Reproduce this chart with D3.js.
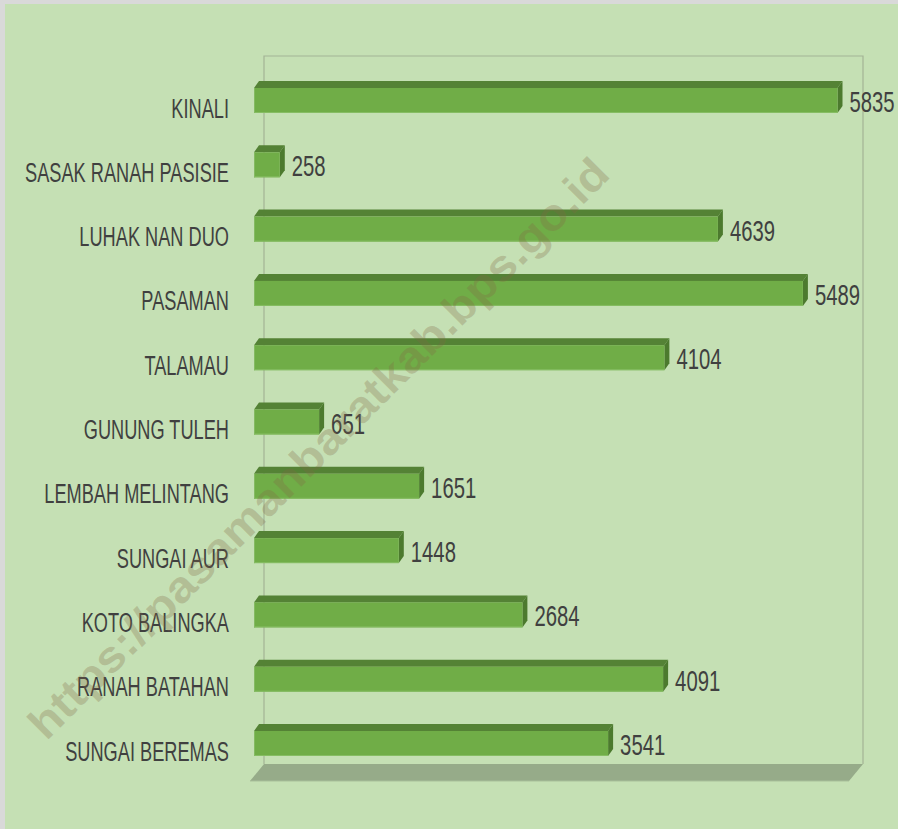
<!DOCTYPE html>
<html>
<head>
<meta charset="utf-8">
<script src="https://cdn.jsdelivr.net/npm/d3@7"></script>
<style>
  html, body { margin: 0; padding: 0; background: #d9d9d9; }
  svg { display: block; }
</style>
</head>
<body>
<svg id="chart" width="898" height="829"></svg>
<script>
const categories = ["KINALI", "SASAK RANAH PASISIE", "LUHAK NAN DUO", "PASAMAN", "TALAMAU",
  "GUNUNG TULEH", "LEMBAH MELINTANG", "SUNGAI AUR", "KOTO BALINGKA", "RANAH BATAHAN", "SUNGAI BEREMAS"];
const values = [5835, 258, 4639, 5489, 4104, 651, 1651, 1448, 2684, 4091, 3541];
const xDomain = [0, 6000];
const watermark = "https://pasamanbaratkab.bps.go.id";

const svg = d3.select("#chart");
const W = 898, H = 829;

// background panel
svg.append("rect").attr("x", 5).attr("y", 4).attr("width", W - 5).attr("height", H - 4).attr("fill", "#c5e0b4");

const x = d3.scaleLinear().domain(xDomain).range([254, 854]);
const y = d3.scalePoint().domain(categories).range([100.5, 743.5]);
const barH = 25, dX = 5, dY = 7;

// walls
const wallL = 264, wallR = 863, wallT = 56, floorB = 764;
const wall = svg.append("g").attr("stroke", "#a3b395").attr("stroke-width", 1.2).attr("fill", "none");
wall.append("path").attr("d", `M${wallL},${floorB}V${wallT}H${wallR}V${floorB}`);

// floor
svg.append("path")
  .attr("d", `M${wallL},${floorB}L${wallR},${floorB}L${wallR - 14},${floorB + 17}L${wallL - 14},${floorB + 17}Z`)
  .attr("fill", "#96ab89");
svg.append("line").attr("x1", wallL - 14).attr("x2", wallR - 14).attr("y1", floorB + 17).attr("y2", floorB + 17)
  .attr("stroke", "#a9bf9a").attr("stroke-width", 1);

// bars
const bars = svg.append("g").selectAll("g").data(categories).join("g");
bars.each(function(c, i) {
  const g = d3.select(this);
  const x0 = x(0), x1 = x(values[i]);
  const yt = y(c) - barH / 2, yb = y(c) + barH / 2;
  g.append("path")
    .attr("d", `M${x0},${yt}L${x0 + dX},${yt - dY}L${x1 + dX},${yt - dY}L${x1},${yt}Z`)
    .attr("fill", "#548235");
  g.append("path")
    .attr("d", `M${x1},${yt}L${x1 + dX},${yt - dY}L${x1 + dX},${yb - dY}L${x1},${yb}Z`)
    .attr("fill", "#4c7a2e");
  g.append("rect").attr("x", x0).attr("y", yt).attr("width", x1 - x0).attr("height", barH)
    .attr("fill", "#70ad47");
  g.append("line").attr("x1", x0).attr("x2", x1).attr("y1", yb - 0.5).attr("y2", yb - 0.5)
    .attr("stroke", "#86bd63").attr("stroke-width", 1);
  g.append("line").attr("x1", x0 + 0.5).attr("x2", x0 + 0.5).attr("y1", yt).attr("y2", yb)
    .attr("stroke", "#84ba62").attr("stroke-width", 1);
});

const fontFam = "'Liberation Sans', Arial, sans-serif";

// category labels
svg.append("g").selectAll("text").data(categories).join("text")
  .attr("transform", d => `translate(229,${y(d) + 17}) scale(0.65,1)`)
  .attr("text-anchor", "end")
  .attr("font-family", fontFam)
  .attr("font-size", 28)
  .attr("fill", "#404040")
  .text(d => d);

// value labels
svg.append("g").selectAll("text").data(categories).join("text")
  .attr("transform", (d, i) => `translate(${x(values[i]) + 12},${y(d) + 11.5}) scale(0.7,1)`)
  .attr("font-family", fontFam)
  .attr("font-size", 29)
  .attr("fill", "#404040")
  .text((d, i) => values[i]);

// watermark
svg.append("text")
  .attr("transform", "translate(318,448) rotate(-45)")
  .attr("text-anchor", "middle")
  .attr("dominant-baseline", "central")
  .attr("font-family", "'Liberation Sans', Arial, sans-serif")
  .attr("font-weight", "bold")
  .attr("font-size", 44)
  .attr("textLength", 800)
  .attr("lengthAdjust", "spacingAndGlyphs")
  .attr("fill", "rgb(130,105,70)")
  .attr("fill-opacity", 0.28)
  .text(watermark);
</script>
</body>
</html>
